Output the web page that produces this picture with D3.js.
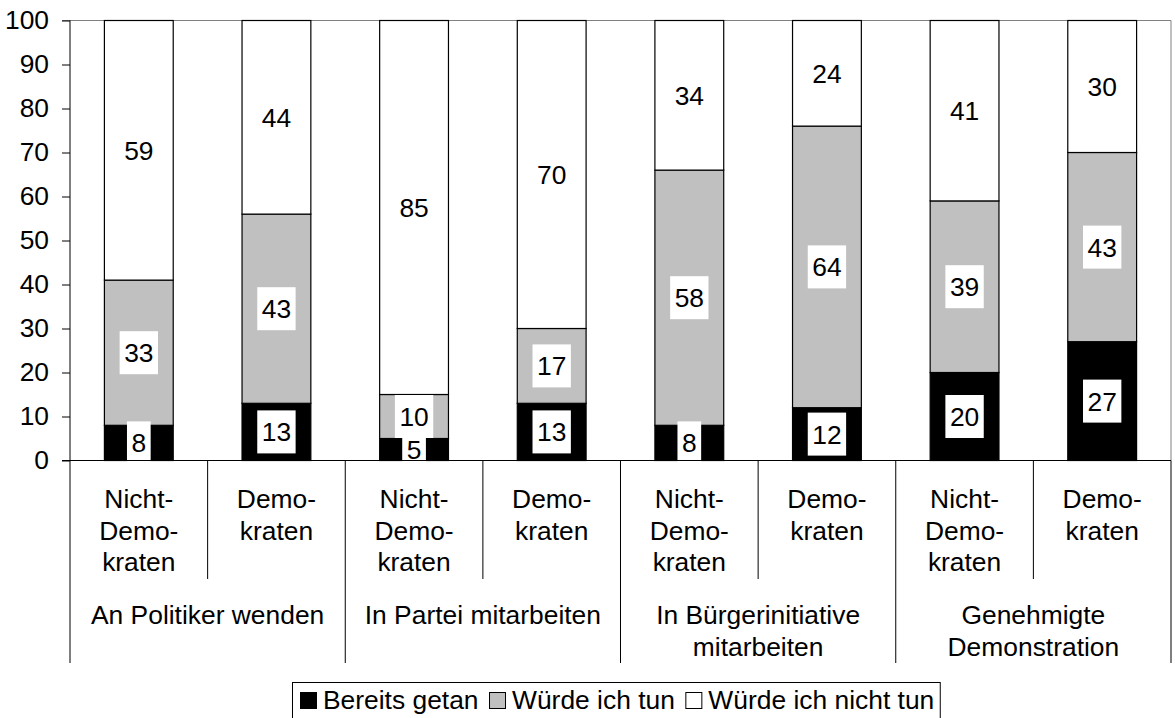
<!DOCTYPE html>
<html>
<head>
<meta charset="utf-8">
<script src="https://cdn.jsdelivr.net/npm/d3@7"></script>
<style>
  html, body { margin: 0; padding: 0; background: #fff; }
  svg { display: block; font-family: Arial, "Liberation Sans", sans-serif; }
</style>
</head>
<body>
<svg id="chart" width="1175" height="718"></svg>
<script>
// Political participation: done / would do / would not do, by group
const groupLabels = [
  ["An Politiker wenden"],
  ["In Partei mitarbeiten"],
  ["In Bürgerinitiative", "mitarbeiten"],
  ["Genehmigte", "Demonstration"]
];
const subLabels = [
  ["Nicht-", "Demo-", "kraten"],
  ["Demo-", "kraten"]
];
const seriesNames = ["Bereits getan", "Würde ich tun", "Würde ich nicht tun"];
const bereitsGetan   = [8, 13, 5, 13, 8, 12, 20, 27];
const wuerdeIchTun   = [33, 43, 10, 17, 58, 64, 39, 43];
const wuerdeNichtTun = [59, 44, 85, 70, 34, 24, 41, 30];
const yTicks = [0, 10, 20, 30, 40, 50, 60, 70, 80, 90, 100];

const colors = ["#000000", "#c0c0c0", "#ffffff"];
const FS = 26.4;

const svg = d3.select("#chart");

const plot = { left: 70, right: 1171, top: 20.5, bottom: 460.5 };

// one row per bar
const rows = bereitsGetan.map((v, i) => ({
  idx: i,
  group: Math.floor(i / 2),
  sub: i % 2,
  [seriesNames[0]]: v,
  [seriesNames[1]]: wuerdeIchTun[i],
  [seriesNames[2]]: wuerdeNichtTun[i]
}));

const x = d3.scaleBand()
  .domain(rows.map(r => r.idx))
  .range([plot.left, plot.right])
  .paddingInner(0.5)
  .paddingOuter(0.25);

const y = d3.scaleLinear().domain([0, 100]).range([plot.bottom, plot.top]);

const stacked = d3.stack().keys(seriesNames)(rows);

// plot area border (top and right)
svg.append("path")
  .attr("d", `M${plot.left - 8},${y(100)}H${plot.right}V${plot.bottom}`)
  .attr("fill", "none")
  .attr("stroke", "#808080")
  .attr("stroke-width", 1);

// stacked bar segments
const layers = svg.append("g").selectAll("g")
  .data(stacked)
  .join("g")
  .attr("fill", (d, i) => colors[i]);

layers.selectAll("rect")
  .data(d => d)
  .join("rect")
  .attr("x", d => x(d.data.idx))
  .attr("width", x.bandwidth())
  .attr("y", d => y(d[1]))
  .attr("height", d => y(d[0]) - y(d[1]))
  .attr("stroke", "#000")
  .attr("stroke-width", 1.2);

// value labels on white boxes
const labelG = svg.append("g");
stacked.forEach(layer => {
  layer.forEach(d => {
    const v = d[1] - d[0];
    const cx = x(d.data.idx) + x.bandwidth() / 2;
    const cy = (y(d[0]) + y(d[1])) / 2;
    const g = labelG.append("g");
    const rect = g.append("rect").attr("fill", "#fff");
    const t = g.append("text")
      .attr("x", cx)
      .attr("y", cy)
      .attr("dy", "0.36em")
      .attr("text-anchor", "middle")
      .attr("font-size", FS)
      .attr("fill", "#000")
      .text(v);
    const w = t.node().getComputedTextLength() + 9;
    rect.attr("x", cx - w / 2).attr("y", cy - 21.5).attr("width", w).attr("height", 43);
  });
});

// y axis
const yAxis = svg.append("g")
  .attr("transform", `translate(${plot.left},0)`)
  .call(d3.axisLeft(y).tickValues(yTicks).tickSize(8).tickPadding(13));
yAxis.select(".domain").remove();
yAxis.selectAll(".tick line").attr("stroke", "#000");
yAxis.selectAll(".tick text")
  .attr("font-size", FS)
  .attr("font-family", "Arial, 'Liberation Sans', sans-serif")
  .attr("fill", "#000");
yAxis.append("line")
  .attr("x1", 0).attr("x2", 0)
  .attr("y1", y(100)).attr("y2", plot.bottom)
  .attr("stroke", "#000");

// x axis baseline
svg.append("line")
  .attr("x1", plot.left - 8).attr("x2", plot.right)
  .attr("y1", plot.bottom).attr("y2", plot.bottom)
  .attr("stroke", "#000");

// category dividers
const step = x.step();
const boundaries = d3.range(rows.length + 1);
svg.append("g").selectAll("line")
  .data(boundaries)
  .join("line")
  .attr("x1", i => plot.left + i * step)
  .attr("x2", i => plot.left + i * step)
  .attr("y1", plot.bottom)
  .attr("y2", i => (i % 2 === 0 ? 663 : 579))
  .attr("stroke", "#000")
  .attr("stroke-width", 1);

// sub category labels
const subG = svg.append("g")
  .attr("font-size", FS)
  .attr("text-anchor", "middle")
  .attr("fill", "#000");
rows.forEach(r => {
  const t = subG.append("text")
    .attr("x", x(r.idx) + x.bandwidth() / 2)
    .attr("y", 508);
  subLabels[r.sub].forEach((line, k) => {
    t.append("tspan")
      .attr("x", x(r.idx) + x.bandwidth() / 2)
      .attr("y", 508 + k * 31.6)
      .text(line);
  });
});

// group labels
const grpG = svg.append("g")
  .attr("font-size", FS)
  .attr("text-anchor", "middle")
  .attr("fill", "#000");
groupLabels.forEach((lines, gi) => {
  const cx = plot.left + (gi * 2 + 1) * step;
  const t = grpG.append("text");
  lines.forEach((line, k) => {
    t.append("tspan").attr("x", cx).attr("y", 624 + k * 31.6).text(line);
  });
});

// legend
const legend = svg.append("g");
const legBox = legend.append("rect")
  .attr("x", 292.5).attr("y", 682.5)
  .attr("height", 60)
  .attr("fill", "#fff")
  .attr("stroke", "#000")
  .attr("stroke-width", 1);
let lx = 300.5;
seriesNames.forEach((name, i) => {
  legend.append("rect")
    .attr("x", lx).attr("y", 692.5)
    .attr("width", 16).attr("height", 16)
    .attr("fill", colors[i])
    .attr("stroke", "#000")
    .attr("stroke-width", 1);
  lx += 22.5;
  const t = legend.append("text")
    .attr("x", lx).attr("y", 709)
    .attr("font-size", FS)
    .attr("fill", "#000")
    .text(name);
  lx += t.node().getComputedTextLength() + 11;
});
legBox.attr("width", lx - 292.5 - 5);
</script>
</body>
</html>
